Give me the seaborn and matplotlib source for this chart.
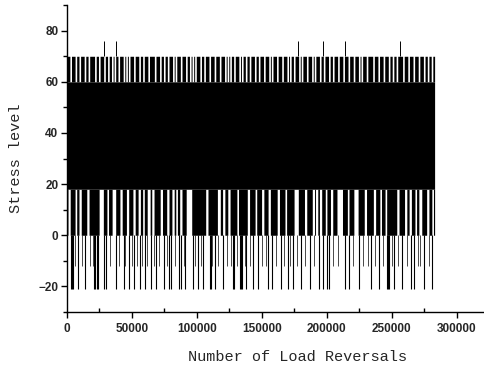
import matplotlib
matplotlib.use("Agg")
import matplotlib.pyplot as plt
import seaborn as sns
import numpy as np
from matplotlib.ticker import MultipleLocator

# load history (positions in thousands of reversals)
n_end = 283
band_lo, band_hi = 18, 60
peak_level, trough_level, deep_level, spike_level = 70, 0, -21, 76
mid_level = -12

# places where the peaks stay at 60 (white gaps in the 60-70 strip)
top_gaps = [3, 7, 10, 14, 17, 22, 25, 29, 32, 35, 37, 40, 44, 46, 48, 52, 56, 59,
            63, 68, 72, 75, 78, 82, 84, 88, 92, 95, 97, 99, 103, 106, 110, 114,
            118, 122, 124, 126, 129, 133, 135, 138, 141, 145, 148, 152, 156, 158,
            162, 166, 170, 172, 175, 179, 181, 185, 189, 191, 195, 198, 202, 205,
            209, 213, 217, 221, 225, 227, 231, 236, 240, 244, 248, 251, 254, 259,
            263, 267, 271, 275, 278, 281]

# places where the troughs stay at 18 (start, end)
low_gaps = [(1, 2.5), (6.5, 7.5), (9.5, 11), (15.5, 17), (25, 28), (31, 32),
            (35, 37.5), (41, 42.5), (46, 47.5), (51, 52.5), (55, 56.5), (58.5, 59.5),
            (62, 64), (65.5, 67), (72, 73.5), (77, 78.5), (81, 82.5), (84, 85),
            (87, 88.5), (92, 96), (107, 108.5), (116, 118), (120, 121.5),
            (124, 125.5), (131, 132), (139, 140.5), (145, 146), (150, 151.5),
            (155, 156.5), (162, 163.5), (168, 169), (175, 178), (183, 184.5),
            (189, 190.5), (191.5, 193), (194.5, 196), (199, 200), (203, 204.5),
            (208, 212), (216, 217), (221, 224), (229, 230.5), (236, 237.5),
            (241, 242), (245, 246), (254, 255.5), (260, 261.5), (263.5, 265),
            (268, 269), (271, 273), (277, 278.5), (281, 282)]

# reversals reaching -21
deep_pos = [3, 4, 5, 9, 14, 21, 22, 23, 24, 29, 30, 38, 44, 48, 52, 56, 60, 65, 69,
            75, 79, 80, 86, 88, 91, 97, 101, 105, 110, 111, 114, 120, 128, 129,
            133, 134, 135, 138, 143, 147, 155, 158, 165, 170, 174, 180, 187, 194,
            197, 200, 202, 214, 217, 225, 234, 240, 246, 247, 248, 252, 258, 265,
            267, 275, 281]

# reversals reaching about -12 (grey texture below 0)
mid_pos = [6, 12, 18, 20, 33, 40, 45, 50, 54, 58, 62, 67, 71, 77, 83, 90, 99, 103,
           112, 116, 123, 126, 131, 137, 141, 150, 153, 161, 167, 172, 177, 183,
           190, 205, 209, 220, 228, 232, 237, 243, 250, 255, 262, 270, 272, 279]

# rare peaks above 70
spike_pos = [29, 38, 178, 197, 214, 256]

# envelope of the history on a fine grid
x = np.arange(0, n_end + 0.25, 0.25)
upper = np.full_like(x, peak_level, dtype=float)
for g in top_gaps:
    upper[np.abs(x - g) <= 0.6] = band_hi
lower = np.full_like(x, trough_level, dtype=float)
for a, b in low_gaps:
    lower[(x >= a) & (x <= b)] = band_lo

sns.set_theme(style="ticks")
plt.rcParams["font.family"] = ["Liberation Sans", "DejaVu Sans"]

fig = plt.figure(figsize=(4.84, 3.67), dpi=100)
ax = fig.add_axes([0.138, 0.150, 0.862, 0.836])

xs = x * 1000
ax.fill_between(xs, band_lo, band_hi, color="black", lw=0)
ax.fill_between(xs, band_hi, upper, color="black", lw=0, step="mid")
ax.fill_between(xs, lower, band_lo, color="black", lw=0, step="mid")
ax.vlines(np.array(deep_pos) * 1000, deep_level, trough_level, color="black", lw=0.8)
ax.vlines(np.array(mid_pos) * 1000, mid_level, trough_level, color="black", lw=0.5)
ax.vlines(np.array(spike_pos) * 1000, peak_level, spike_level, color="black", lw=0.7)

ax.set_xlim(0, 321000)
ax.set_ylim(-30, 90)
ax.xaxis.set_major_locator(MultipleLocator(50000))
ax.xaxis.set_minor_locator(MultipleLocator(25000))
ax.yaxis.set_major_locator(MultipleLocator(20))
ax.yaxis.set_minor_locator(MultipleLocator(10))
ax.xaxis.set_major_formatter(matplotlib.ticker.FuncFormatter(lambda v, p: f"{int(v)}"))

ax.tick_params(axis="both", which="major", direction="out", length=4, width=1,
               labelsize=8.5, color="black", pad=2)
ax.tick_params(axis="x", which="minor", direction="in", length=3, width=1, color="black")
ax.tick_params(axis="y", which="minor", direction="out", length=3, width=1, color="black")
ax.tick_params(axis="x", which="major", pad=4)
for lab in ax.get_xticklabels() + ax.get_yticklabels():
    lab.set_fontweight("bold")

sns.despine(ax=ax)
for s in ["left", "bottom"]:
    ax.spines[s].set_color("black")
    ax.spines[s].set_linewidth(1.0)

ax.set_xlabel("Number of Load Reversals", family=["Liberation Mono", "DejaVu Sans Mono"],
              fontsize=11)
ax.set_ylabel("Stress level", family=["Liberation Mono", "DejaVu Sans Mono"], fontsize=11)
ax.xaxis.set_label_coords(0.552, -0.125)
ax.yaxis.set_label_coords(-0.105, 0.5)

fig.savefig("out.png", dpi=100)
